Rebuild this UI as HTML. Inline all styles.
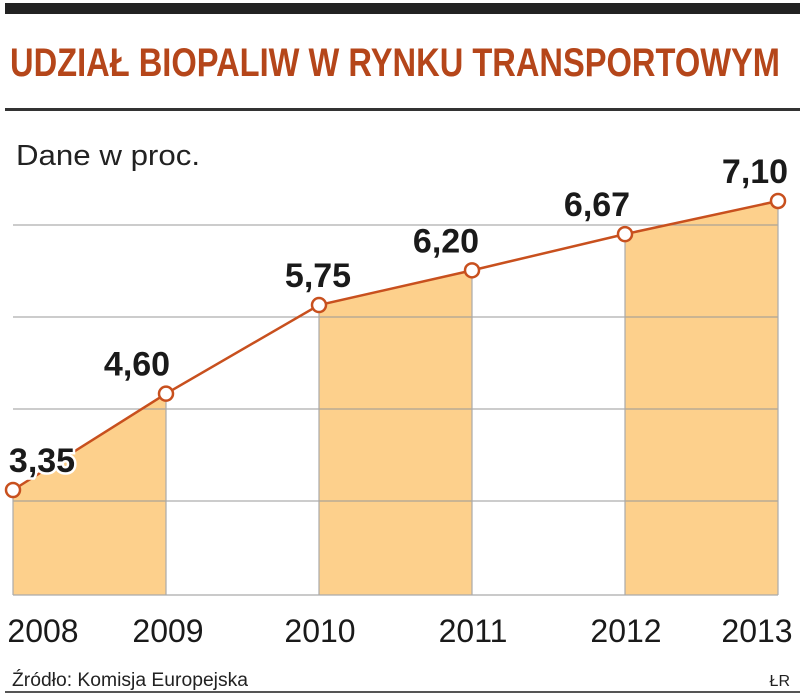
<!DOCTYPE html>
<html><head><meta charset="utf-8"><style>
body{margin:0;background:#fff;}
svg{display:block;}
text{font-family:"Liberation Sans Narrow","Liberation Sans",sans-serif;}
</style></head><body>
<svg width="805" height="700" viewBox="0 0 805 700">
<rect x="5" y="3" width="795" height="11" fill="#222"/>
<text x="10" y="76" font-size="40" fill="#b5461a" font-weight="bold" textLength="770" lengthAdjust="spacingAndGlyphs">UDZIAŁ BIOPALIW W RYNKU TRANSPORTOWYM</text>
<rect x="5" y="108" width="795" height="3" fill="#333"/>
<text x="16" y="165" font-size="29" fill="#222" textLength="184" lengthAdjust="spacingAndGlyphs">Dane w proc.</text>
<g id="plot"></g>
<text x="12" y="686" font-size="19" fill="#222" textLength="236" lengthAdjust="spacingAndGlyphs">Źródło: Komisja Europejska</text>
<text x="790" y="686" font-size="16" fill="#222" text-anchor="end">ŁR</text>
<rect x="5" y="691" width="795" height="2" fill="#555"/>
</svg>
<script>
const years = ["2008","2009","2010","2011","2012","2013"];
const values = [3.35, 4.60, 5.75, 6.20, 6.67, 7.10];
const valueLabels = ["3,35","4,60","5,75","6,20","6,67","7,10"];
const NS="http://www.w3.org/2000/svg";
const g=document.getElementById('plot');
const x0=13,x1=778,base=595;
const xs=i=>x0+i*(x1-x0)/(years.length-1);
const ys=v=>490-(v-3.35)*77.07;
function mk(t,a){const e=document.createElementNS(NS,t);for(const k in a)e.setAttribute(k,a[k]);g.appendChild(e);return e;}
for(let i=0;i<years.length-1;i+=2){
  const p=mk('polygon',{points:`${xs(i)},${base} ${xs(i)},${ys(values[i])} ${xs(i+1)},${ys(values[i+1])} ${xs(i+1)},${base}`,fill:'#fdd08c'});
  
  
}
[225,317,409,501].forEach(y=>{
  const l=mk('line',{x1:x0,x2:x1,y1:y,y2:y,stroke:'#999','stroke-width':1.2,'stroke-opacity':0.8});
  
  
});
years.forEach((y,i)=>{
  const l=mk('line',{x1:xs(i),x2:xs(i),y1:ys(values[i]),y2:base,stroke:'#aaa','stroke-width':1.2});
  
  
});
const bl=mk('line',{x1:x0,x2:x1,y1:base,y2:base,stroke:'#aaa','stroke-width':1.2});


const pl=mk('polyline',{points:values.map((v,i)=>xs(i)+','+ys(v)).join(' '),fill:'none',stroke:'#c8501e','stroke-width':2.5});


const lblX=[42,137,318,446,597,755];
const yrX=[43,168,320,473,626,757];
values.forEach((v,i)=>{
  const c=mk('circle',{cx:xs(i),cy:ys(v),r:7,fill:'#fff',stroke:'#c8501e','stroke-width':2.5});
  
  
  const t=mk('text',{x:lblX[i],y:ys(v)-18,'font-size':34,'font-weight':'bold',fill:'#1a1a1a','text-anchor':'middle',stroke:'#fff','stroke-width':5,'paint-order':'stroke'});
  t.textContent=valueLabels[i];
  
  
  const yt=mk('text',{x:yrX[i],y:642,'font-size':32,fill:'#1a1a1a','text-anchor':'middle'});
  yt.textContent=years[i];
  
  
});
</script>
</body></html>
